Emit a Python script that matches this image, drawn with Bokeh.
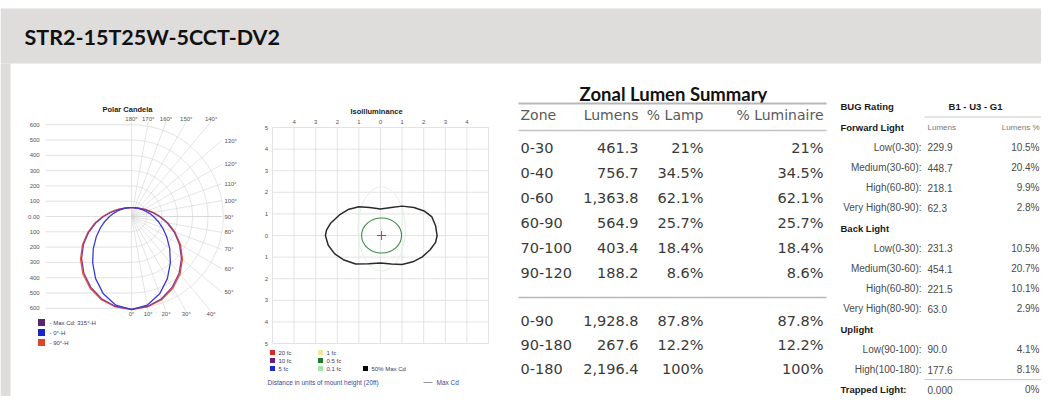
import numpy as np
from bokeh.plotting import figure
from bokeh.models import Range1d, ColumnDataSource
from bokeh.embed import file_html
from bokeh.resources import INLINE
from bokeh.core.properties import value

# ---------------- data ----------------
title_text = "STR2-15T25W-5CCT-DV2"

# Polar candela (cd) per vertical angle from nadir
polar_angles = [0, 10, 20, 30, 40, 50, 60, 70, 80, 90, 100, 110, 120, 130, 140, 150, 160, 170, 180]
cd_max_315 = [606, 597, 572, 533, 484, 426, 362, 297, 236, 183, 142, 113, 93, 80, 71, 65, 61, 59, 58]
cd_0H = [608, 589, 538, 469, 395, 326, 266, 216, 176, 144, 119, 100, 87, 76, 69, 64, 61, 59, 58]
cd_90H = [608, 600, 578, 541, 493, 435, 370, 304, 242, 188, 146, 116, 95, 81, 72, 65, 61, 59, 58]
polar_series_names = ["- Max Cd: 315\u00b0-H", "- 0\u00b0-H", "- 90\u00b0-H"]
polar_scale_values = [600, 500, 400, 300, 200, 100, 0, -100, -200, -300, -400, -500, -600]
polar_scale_labels = ["600", "500", "400", "300", "200", "100", "0.00", "100", "200", "300", "400", "500", "600"]
polar_right_angles = [130, 120, 110, 100, 90, 80, 70, 60, 50]
polar_top_angles = [180, 170, 160, 150, 140]
polar_bottom_angles = [0, 10, 20, 30, 40]
polar_rings = [100, 200, 300, 400, 500, 600]

# Isoilluminance (units of mount height)
iso_ticks = [-5, -4, -3, -2, -1, 0, 1, 2, 3, 4, 5]
iso_top_ticks = [-4, -3, -2, -1, 0, 1, 2, 3, 4]
iso_black_x = [2.62, 2.55, 2.38, 2.05, 1.55, 1.0, 0.5, 0.0, -0.5, -1.0, -1.5, -1.9, -2.3, -2.5, -2.55,
               -2.42, -2.12, -1.72, -1.15, -0.55, 0.0, 0.5, 1.0, 1.5, 1.92, 2.3, 2.55, 2.62]
iso_black_y = [0.0, 0.45, 0.86, 1.12, 1.3, 1.36, 1.3, 1.23, 1.3, 1.33, 1.2, 0.95, 0.58, 0.25, 0.0,
               -0.45, -0.85, -1.12, -1.32, -1.31, -1.27, -1.32, -1.34, -1.22, -1.0, -0.66, -0.32, 0.0]
iso_green_w, iso_green_h = 1.85, 1.62
iso_light_w, iso_light_h = 2.2, 3.9
iso_center = (0.05, 0.0)
iso_legend_col1 = [("20 fc", "#d42a2a"), ("10 fc", "#6b1f7c"), ("5 fc", "#1a2ad0")]
iso_legend_col2 = [("1 fc", "#f1e7a0"), ("0.5 fc", "#1f7a2a"), ("0.1 fc", "#a6e3a6")]
iso_legend_col3 = [("50% Max Cd", "#000000")]
iso_footer = "Distance in units of mount height (20ft)"

# Zonal lumen summary
zonal_header = ["Zone", "Lumens", "% Lamp", "% Luminaire"]
zones = ["0-30", "0-40", "0-60", "60-90", "70-100", "90-120", "0-90", "90-180", "0-180"]
zone_lumens = [461.3, 756.7, 1363.8, 564.9, 403.4, 188.2, 1928.8, 267.6, 2196.4]
zone_pct_lamp = [21, 34.5, 62.1, 25.7, 18.4, 8.6, 87.8, 12.2, 100]
zone_pct_lum = [21, 34.5, 62.1, 25.7, 18.4, 8.6, 87.8, 12.2, 100]

# BUG rating
bug_rating = "B1 - U3 - G1"
bug_groups = ["Forward Light", "Back Light", "Uplight"]
bug_zone_labels = ["Low(0-30):", "Medium(30-60):", "High(60-80):", "Very High(80-90):"]
fwd_lumens = [229.9, 448.7, 218.1, 62.3]
fwd_pct = [10.5, 20.4, 9.9, 2.8]
back_lumens = [231.3, 454.1, 221.5, 63.0]
back_pct = [10.5, 20.7, 10.1, 2.9]
up_labels = ["Low(90-100):", "High(100-180):"]
up_lumens = [90.0, 177.6]
up_pct = [4.1, 8.1]
trapped_lumens = 0.0
trapped_pct = 0

# ---------------- figure (data coords = picture pixels) ----------------
W, H = 1041, 396
p = figure(width=W, height=H, x_range=Range1d(0, W), y_range=Range1d(H, 0),
           output_backend="svg", toolbar_location=None, min_border=0,
           x_axis_type=None, y_axis_type=None)
p.grid.visible = False
p.outline_line_color = None
p.background_fill_color = "white"
p.border_fill_color = "white"

SMALL = value("Liberation Sans")
TAB = value("DejaVu Sans")
GEO = value("Lato")

# header band
p.quad(left=0, right=W, top=8, bottom=63, fill_color="#dfdcdc", line_color=None)
p.quad(left=0, right=10, top=63, bottom=H, fill_color="#dfdcdc", line_color=None)
p.text(x=[24], y=[36], text=[title_text], text_font=GEO, text_font_size=value("21.5px"),
       text_baseline="middle", text_color="#111111", text_font_style="bold")

# ---------------- polar candela ----------------
pcx, pcy, pk = 131.0, 216.0, 0.153  # centre (px) and px per cd
p.extra_x_ranges["px"] = Range1d((0 - pcx) / pk, (W - pcx) / pk)
p.extra_y_ranges["py"] = Range1d((pcy - H) / pk, (pcy - 0) / pk)
PR = dict(x_range_name="px", y_range_name="py")
gcol = "#d4d4d4"
n = len(polar_scale_values)
p.segment(x0=[-560] * n, x1=[0] * n, y0=polar_scale_values, y1=polar_scale_values,
          line_color=gcol, line_width=0.7, **PR)
p.segment(x0=[0], x1=[590], y0=[0], y1=[0], line_color=gcol, line_width=0.7, **PR)
p.text(x=[-600] * n, y=polar_scale_values, text=polar_scale_labels,
       text_font=SMALL, text_font_size=value("6px"), text_align="right", text_baseline="middle",
       text_color="#555555", **PR)
bx, by = 590.0, 620.0
rad = np.radians(np.arange(0, 181, 10))
ends = []
for a in rad:
    s, c = np.sin(a), -np.cos(a)
    t = min(bx / s if s > 1e-9 else 1e9, by / abs(c) if abs(c) > 1e-9 else 1e9)
    ends.append((t * s, t * c))
p.segment(x0=[0] * len(ends), y0=[0] * len(ends), x1=[e[0] for e in ends], y1=[e[1] for e in ends],
          line_color=gcol, line_width=0.6, **PR)
p.arc(x=[0] * len(polar_rings), y=[0] * len(polar_rings), radius=polar_rings,
      start_angle=-np.pi / 2, end_angle=np.pi / 2, line_color=gcol, line_width=0.6, **PR)
ra = np.radians(polar_right_angles)
p.text(x=[bx + 18] * len(ra), y=list(-bx * np.cos(ra) / np.sin(ra)),
       text=[f"{a}\u00b0" for a in polar_right_angles], text_font=SMALL, text_font_size=value("6px"),
       text_baseline="middle", text_color="#555555", **PR)
ta = np.radians(polar_top_angles)
p.text(x=list(by * np.tan(np.pi - ta)), y=[(pcy - 118) / pk] * len(ta),
       text=[f"{a}\u00b0" for a in polar_top_angles], text_font=SMALL, text_font_size=value("6px"),
       text_align="center", text_baseline="middle", text_color="#555555", **PR)
ba = np.radians(polar_bottom_angles)
p.text(x=list(by * np.tan(ba)), y=[(pcy - 313) / pk] * len(ba),
       text=[f"{a}\u00b0" for a in polar_bottom_angles], text_font=SMALL, text_font_size=value("6px"),
       text_align="center", text_baseline="middle", text_color="#555555", **PR)
p.text(x=[(127 - pcx) / pk], y=[(pcy - 109) / pk], text=["Polar Candela"], text_font=SMALL,
       text_font_size=value("7.5px"), text_font_style="bold", text_align="center",
       text_baseline="middle", text_color="#222222", **PR)


def polar_loop(vals):
    a = np.radians(polar_angles)
    v = np.array(vals, dtype=float)
    xr, yr = v * np.sin(a), -v * np.cos(a)
    return list(np.concatenate([xr, -xr[::-1]])), list(np.concatenate([yr, yr[::-1]]))


for vals, col in [(cd_90H, "#e5533f"), (cd_max_315, "#8a3b8c"), (cd_0H, "#3a3ad8")]:
    xs, ys = polar_loop(vals)
    p.line(x=xs, y=ys, line_color=col, line_width=1.3, line_join="round", **PR)

leg_y = [322 + 10 * i for i in range(3)]
p.scatter(x=[41] * 3, y=leg_y, marker="square", size=7, fill_color=["#5a2470", "#1a24c8", "#d9472b"],
          line_color=None)
p.text(x=[49] * 3, y=leg_y, text=polar_series_names, text_font=SMALL, text_font_size=value("6px"),
       text_baseline="middle", text_color="#3a3a6a")

# ---------------- isoilluminance ----------------
icx, icy, ik = 380.0, 235.0, 21.6
p.extra_x_ranges["ix"] = Range1d((0 - icx) / ik, (W - icx) / ik)
p.extra_y_ranges["iy"] = Range1d((icy - H) / ik, (icy - 0) / ik)
IR = dict(x_range_name="ix", y_range_name="iy")
lo, hi = iso_ticks[0], iso_ticks[-1]
m = len(iso_ticks)
p.segment(x0=iso_ticks, x1=iso_ticks, y0=[lo] * m, y1=[hi] * m, line_color="#dcdcdc", line_width=0.8, **IR)
p.segment(x0=[lo] * m, x1=[hi] * m, y0=iso_ticks, y1=iso_ticks, line_color="#dcdcdc", line_width=0.8, **IR)
p.text(x=iso_top_ticks, y=[(icy - 121) / ik] * len(iso_top_ticks), text=[str(abs(t)) for t in iso_top_ticks],
       text_font=SMALL, text_font_size=value("6px"), text_align="center", text_baseline="middle",
       text_color="#555555", **IR)
p.text(x=[lo - 0.2] * m, y=iso_ticks, text=[str(abs(t)) for t in iso_ticks],
       text_font=SMALL, text_font_size=value("6px"), text_align="right", text_baseline="middle",
       text_color="#555555", **IR)
p.text(x=[(376 - icx) / ik], y=[(icy - 111) / ik], text=["Isoilluminance"], text_font=SMALL,
       text_font_size=value("7.5px"), text_font_style="bold", text_align="center",
       text_baseline="middle", text_color="#222222", **IR)
p.ellipse(x=[iso_center[0]], y=[iso_center[1] + 0.3], width=[iso_light_w], height=[iso_light_h],
          fill_color=None, line_color="#e0f2e0", line_width=1.0, **IR)
p.patch(x=iso_black_x, y=iso_black_y, fill_color=None, line_color="#2a2a2a", line_width=1.5,
        line_join="round", **IR)
p.ellipse(x=[iso_center[0]], y=[iso_center[1]], width=[iso_green_w], height=[iso_green_h],
          fill_color=None, line_color="#3e8a47", line_width=1.1, **IR)
p.scatter(x=[iso_center[0]], y=[iso_center[1]], marker="cross", size=9, line_color="#e0303a",
          line_width=1.0, **IR)

lrow = [352, 360, 368]
for cx, items in [(272, iso_legend_col1), (320, iso_legend_col2), (365, iso_legend_col3)]:
    ys = lrow[-len(items):]
    p.scatter(x=[cx] * len(items), y=ys, marker="square", size=5,
              fill_color=[c for _, c in items], line_color=None)
    p.text(x=[cx + 6] * len(items), y=ys, text=[t for t, _ in items], text_font=SMALL,
           text_font_size=value("6px"), text_baseline="middle", text_color="#3a3a6a")
p.text(x=[267], y=[382], text=[iso_footer], text_font=SMALL, text_font_size=value("6.5px"),
       text_baseline="middle", text_color="#3a4a9a")
p.segment(x0=[423], x1=[432], y0=[382], y1=[382], line_color="#7a7aa0", line_width=0.8)
p.text(x=[436], y=[382], text=["Max Cd"], text_font=SMALL, text_font_size=value("6.5px"),
       text_baseline="middle", text_color="#3a4a9a")

# ---------------- zonal lumen summary ----------------
p.text(x=[673], y=[93.5], text=["Zonal Lumen Summary"], text_font=GEO, text_font_size=value("18.5px"),
       text_font_style="bold", text_align="center", text_baseline="middle", text_color="#111111")
tl, tr = 518, 826
col_zone, col_lm, col_lamp, col_lum = 520, 638, 703, 823
hdr_y = 114
p.segment(x0=[tl], x1=[tr], y0=[103], y1=[103], line_color="#b8b8b8", line_width=2)
p.segment(x0=[tl], x1=[tr], y0=[130], y1=[130], line_color="#c4c4c4", line_width=1.5)
p.segment(x0=[tl], x1=[tr], y0=[297], y1=[297], line_color="#b8b8b8", line_width=1.5)
p.text(x=[col_zone], y=[hdr_y], text=[zonal_header[0]], text_font=TAB, text_font_size=value("14px"),
       text_baseline="middle", text_color="#5a5a5a")
p.text(x=[col_lm, col_lamp, col_lum], y=[hdr_y] * 3, text=zonal_header[1:], text_font=TAB,
       text_font_size=value("14px"), text_align="right", text_baseline="middle", text_color="#5a5a5a")
row_y = [147 + 25 * i for i in range(6)] + [320 + 24 * i for i in range(3)]
zsrc = ColumnDataSource(dict(
    y=row_y, zone=zones,
    lm=[f"{v:,.1f}" for v in zone_lumens],
    lamp=[f"{v:g}%" for v in zone_pct_lamp],
    lum=[f"{v:g}%" for v in zone_pct_lum],
    xz=[col_zone] * 9, xl=[col_lm] * 9, xa=[col_lamp] * 9, xu=[col_lum] * 9))
common = dict(source=zsrc, text_font=TAB, text_font_size=value("14.5px"), text_baseline="middle",
              text_color="#3a3a3a")
p.text(x="xz", y="y", text="zone", **common)
p.text(x="xl", y="y", text="lm", text_align="right", **common)
p.text(x="xa", y="y", text="lamp", text_align="right", **common)
p.text(x="xu", y="y", text="lum", text_align="right", **common)

# ---------------- BUG table ----------------
b0, bdy = 106.4, 20.2
lab_r, val_l, pct_r = 921, 927, 1039
bl = lambda i: b0 + bdy * i
BOLD = dict(text_font=SMALL, text_font_size=value("9.5px"), text_font_style="bold",
            text_baseline="middle", text_color="#1a1a1a")
REG = dict(text_font=SMALL, text_font_size=value("10px"), text_baseline="middle", text_color="#4a4a4a")
p.text(x=[840], y=[bl(0)], text=["BUG Rating"], **BOLD)
p.text(x=[975], y=[bl(0)], text=[bug_rating], text_align="center", **BOLD)
p.segment(x0=[924], x1=[W], y0=[bl(0.5)], y1=[bl(0.5)], line_color="#c8c8c8", line_width=1)
p.text(x=[927], y=[bl(1)], text=["Lumens"], text_font=SMALL, text_font_size=value("8px"),
       text_baseline="middle", text_color="#777777")
p.text(x=[pct_r], y=[bl(1)], text=["Lumens %"], text_font=SMALL, text_font_size=value("8px"),
       text_align="right", text_baseline="middle", text_color="#777777")
labels, lums, pcts, ys, heads, head_y = [], [], [], [], [], []
i = 1
for gname, glabels, gl, gp in [(bug_groups[0], bug_zone_labels, fwd_lumens, fwd_pct),
                               (bug_groups[1], bug_zone_labels, back_lumens, back_pct),
                               (bug_groups[2], up_labels, up_lumens, up_pct)]:
    heads.append(gname)
    head_y.append(bl(i))
    i += 1
    for lab, lm, pc in zip(glabels, gl, gp):
        labels.append(lab)
        lums.append(f"{lm:.1f}")
        pcts.append(f"{pc:.1f}%")
        ys.append(bl(i))
        i += 1
p.text(x=[840] * len(heads), y=head_y, text=heads, **BOLD)
p.text(x=[lab_r] * len(labels), y=ys, text=labels, text_align="right", **REG)
p.text(x=[val_l] * len(lums), y=ys, text=lums, **REG)
p.text(x=[pct_r] * len(pcts), y=ys, text=pcts, text_align="right", **REG)
p.segment(x0=[924], x1=[W], y0=[bl(i - 0.5)], y1=[bl(i - 0.5)], line_color="#c8c8c8", line_width=1)
p.text(x=[840], y=[bl(i)], text=["Trapped Light:"], **BOLD)
p.text(x=[val_l], y=[bl(i)], text=[f"{trapped_lumens:.3f}"], **REG)
p.text(x=[pct_r], y=[bl(i)], text=[f"{trapped_pct:g}%"], text_align="right", **REG)

open("out.html", "w").write(file_html(p, INLINE))
